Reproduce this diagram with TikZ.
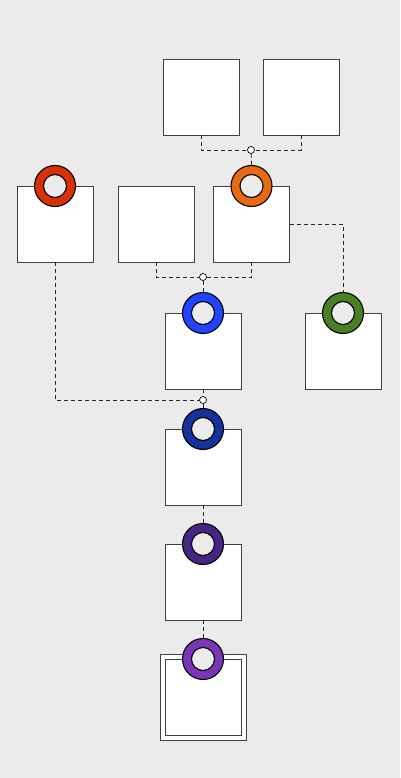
\documentclass[tikz,border=0pt]{standalone}
\usetikzlibrary{backgrounds}
\definecolor{bg}{HTML}{EBEBEB}
\definecolor{cred}{HTML}{DA300A}
\definecolor{corange}{HTML}{E86A12}
\definecolor{cblue}{HTML}{2244FF}
\definecolor{cgreen}{HTML}{4A7F24}
\definecolor{cdblue}{HTML}{16309C}
\definecolor{cdpurple}{HTML}{462682}
\definecolor{cpurple}{HTML}{7A36B6}
\begin{document}
\begin{tikzpicture}[x=1pt,y=-1pt,
  boxst/.style={draw=black!75,fill=white,line width=0.8pt,minimum width=76pt,minimum height=76pt,inner sep=0pt,outer sep=0pt},
  ringst/.style={circle,draw=black,line width=1.1pt,minimum size=41pt,inner sep=0pt,fill=#1},
  holest/.style={circle,draw=black,line width=1.1pt,minimum size=23pt,inner sep=0pt,fill=bg},
  junc/.style={circle,draw=black,line width=0.7pt,fill=white,minimum size=7pt,inner sep=0pt},
  link/.style={draw=black!85,line width=0.8pt,dash pattern=on 4pt off 3pt}]
\useasboundingbox (0,0) rectangle (400,778);
\fill[bg] (0,0) rectangle (400,778);
% boxes
\node[boxst] (A) at (201,97) {};
\node[boxst] (B) at (301,97) {};
\node[boxst] (R) at (55,224) {};
\node[boxst] (M) at (156,224) {};
\node[boxst] (O) at (251.5,224) {};
\node[boxst] (Bl) at (203,351) {};
\node[boxst] (G) at (343,351) {};
\node[boxst] (DB) at (203,467) {};
\node[boxst] (DP) at (203,582) {};
\node[boxst,minimum width=86pt,minimum height=86pt] (Pout) at (203,697) {};
\node[boxst] (P) at (203,697) {};
% junctions
\node[junc] (j1) at (251,150) {};
\node[junc] (j2) at (203,277) {};
\node[junc] (j3) at (203,400) {};
% rings
\node[ringst=cred] (rR) at (R.north) {};
\node[holest] at (rR) {};
\node[ringst=corange] (rO) at (O.north) {};
\node[holest] at (rO) {};
\node[ringst=cblue] (rBl) at (Bl.north) {};
\node[holest] at (rBl) {};
\node[ringst=cgreen] (rG) at (G.north) {};
\node[holest] at (rG) {};
\node[ringst=cdblue] (rDB) at (DB.north) {};
\node[holest] at (rDB) {};
\node[ringst=cdpurple] (rDP) at (DP.north) {};
\node[holest] at (rDP) {};
\node[ringst=cpurple] (rP) at (P.north) {};
\node[holest] at (rP) {};
% connectors
\path[link] (A.south) |- (j1);
\path[link] (B.south) |- (j1);
\path[link] (j1) -- (rO.north);
\path[link] (M.south) |- (j2);
\path[link] (O.south) |- (j2);
\path[link] (j2) -- (rBl.north);
\path[link] (O.east) -| (rG.north);
\path[link] (R.south) |- (j3);
\path[link] (Bl.south) -- (j3);
\path[link] (j3) -- (rDB.north);
\path[link] (DB.south) -- (rDP.north);
\path[link] (DP.south) -- (rP.north);
\end{tikzpicture}
\end{document}
